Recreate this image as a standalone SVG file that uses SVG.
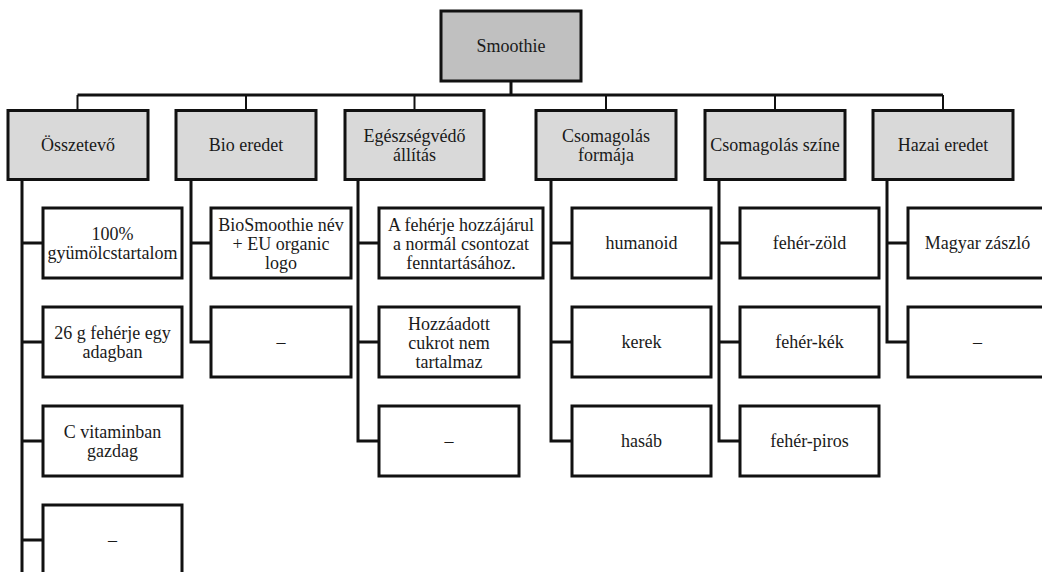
<svg xmlns="http://www.w3.org/2000/svg" width="1042" height="572" viewBox="0 0 1042 572">
<style>
text{font-family:'Liberation Serif','Times New Roman',serif;font-size:18px;fill:#1a1a1a;text-anchor:middle}
.root{fill:#c0c0c0;stroke:#111;stroke-width:3}
.l1{fill:#d9d9d9;stroke:#111;stroke-width:3}
.l2{fill:#fff;stroke:#111;stroke-width:3}
.c{fill:none;stroke:#111;stroke-width:3}
.ct{fill:none;stroke:#111;stroke-width:2}
</style>
<rect width="1042" height="572" fill="#fff"/>
<g id="connectors">
<line class="c" x1="511" y1="81" x2="511" y2="95"/>
<line class="c" x1="77.5" y1="95" x2="943" y2="95"/>
<line class="ct" x1="77.5" y1="95" x2="77.5" y2="110"/>
<line class="ct" x1="246" y1="95" x2="246" y2="110"/>
<line class="ct" x1="414.5" y1="95" x2="414.5" y2="110"/>
<line class="ct" x1="606" y1="95" x2="606" y2="110"/>
<line class="ct" x1="775" y1="95" x2="775" y2="110"/>
<line class="ct" x1="943" y1="95" x2="943" y2="110"/>
<path class="c" d="M22,179V572M22,243H43M22,342H43M22,441H43M22,540H43"/>
<path class="c" d="M191,179V342H211M191,243H211"/>
<path class="c" d="M358,179V441H379M358,243H379M358,342H379"/>
<path class="c" d="M551,179V441H572M551,243H572M551,342H572"/>
<path class="c" d="M719,179V441H740M719,243H740M719,342H740"/>
<path class="c" d="M887,179V342H908M887,243H908"/>
</g>
<g id="n-root"><rect class="root" x="441" y="11" width="140" height="70"/><text x="511" y="52">Smoothie</text></g>
<g id="n-osszetevo"><rect class="l1" x="8" y="110.5" width="140" height="69"/><text x="78" y="151">Összetevő</text></g>
<g id="n-bio"><rect class="l1" x="176" y="110.5" width="140" height="69"/><text x="246" y="151">Bio eredet</text></g>
<g id="n-egeszseg"><rect class="l1" x="345" y="110.5" width="139" height="69"/><text x="414.5" y="141.5">Egészségvédő</text><text x="414.5" y="160.5">állítás</text></g>
<g id="n-forma"><rect class="l1" x="536" y="110.5" width="140" height="69"/><text x="606" y="141.5">Csomagolás</text><text x="606" y="160.5">formája</text></g>
<g id="n-szin"><rect class="l1" x="705" y="110.5" width="140" height="69"/><text x="775" y="151">Csomagolás színe</text></g>
<g id="n-hazai"><rect class="l1" x="873" y="110.5" width="140" height="69"/><text x="943" y="151">Hazai eredet</text></g>

<g id="n-c1a"><rect class="l2" x="43" y="208" width="139" height="70"/><text x="112.5" y="239.5">100%</text><text x="112.5" y="258.5">gyümölcstartalom</text></g>
<g id="n-c1b"><rect class="l2" x="43" y="307" width="139" height="70"/><text x="112.5" y="338.5">26 g fehérje egy</text><text x="112.5" y="357.5">adagban</text></g>
<g id="n-c1c"><rect class="l2" x="43" y="406" width="139" height="70"/><text x="112.5" y="437.5">C vitaminban</text><text x="112.5" y="456.5">gazdag</text></g>
<g id="n-c1d"><rect class="l2" x="43" y="505" width="139" height="70"/><text x="112.5" y="546">–</text></g>

<g id="n-c2a"><rect class="l2" x="211" y="208" width="140" height="70"/><text x="281" y="230.5">BioSmoothie név</text><text x="281" y="249.5">+ EU organic</text><text x="281" y="268.5">logo</text></g>
<g id="n-c2b"><rect class="l2" x="211" y="307" width="140" height="70"/><text x="281" y="348">–</text></g>

<g id="n-c3a"><rect class="l2" x="379" y="208" width="164" height="70"/><text x="461" y="230.5">A fehérje hozzájárul</text><text x="461" y="249.5">a normál csontozat</text><text x="461" y="268.5">fenntartásához.</text></g>
<g id="n-c3b"><rect class="l2" x="379" y="307" width="140" height="70"/><text x="449" y="329.5">Hozzáadott</text><text x="449" y="348.5">cukrot nem</text><text x="449" y="367.5">tartalmaz</text></g>
<g id="n-c3c"><rect class="l2" x="379" y="406" width="140" height="70"/><text x="449" y="447">–</text></g>

<g id="n-c4a"><rect class="l2" x="572" y="208" width="139" height="70"/><text x="641.5" y="249">humanoid</text></g>
<g id="n-c4b"><rect class="l2" x="572" y="307" width="139" height="70"/><text x="641.5" y="348">kerek</text></g>
<g id="n-c4c"><rect class="l2" x="572" y="406" width="139" height="70"/><text x="641.5" y="447">hasáb</text></g>

<g id="n-c5a"><rect class="l2" x="740" y="208" width="139" height="70"/><text x="809.5" y="249">fehér-zöld</text></g>
<g id="n-c5b"><rect class="l2" x="740" y="307" width="139" height="70"/><text x="809.5" y="348">fehér-kék</text></g>
<g id="n-c5c"><rect class="l2" x="740" y="406" width="139" height="70"/><text x="809.5" y="447">fehér-piros</text></g>

<g id="n-c6a"><rect class="l2" x="908" y="208" width="139" height="70"/><text x="977.5" y="249">Magyar zászló</text></g>
<g id="n-c6b"><rect class="l2" x="908" y="307" width="139" height="70"/><text x="977.5" y="348">–</text></g>
</svg>
